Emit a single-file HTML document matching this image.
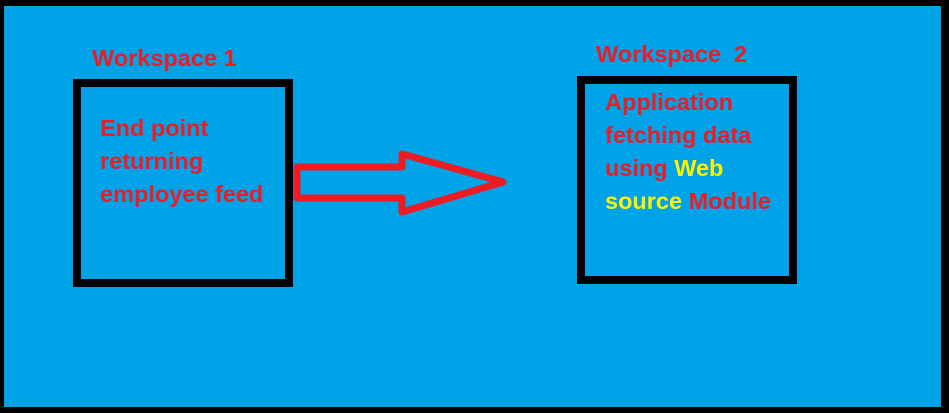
<!DOCTYPE html>
<html><head><style>
html,body{margin:0;padding:0}
body{width:949px;height:413px;background:#000;position:relative;overflow:hidden;font-family:"Liberation Sans",sans-serif;font-weight:bold}
.bg{position:absolute;left:4px;top:6px;width:937px;height:401px;background:#00A2E8}
.box{position:absolute;border:8px solid #000;box-sizing:border-box}
.t{position:absolute;color:#ED1C24;font-size:23.5px;line-height:33px;white-space:nowrap}
.y{color:#FFF200}
</style></head><body>
<div class="bg"></div>
<div class="t" style="left:92px;top:42px">Workspace 1</div>
<div class="box" style="left:73px;top:79px;width:220px;height:208px"></div>
<div class="t" style="left:100px;top:112px">End point<br>returning<br>employee feed</div>
<div class="t" style="left:596px;top:38px">Workspace&nbsp; 2</div>
<div class="box" style="left:577px;top:76px;width:220px;height:208px"></div>
<div class="t" style="left:605px;top:86px">Application<br>fetching data<br>using <span class="y">Web</span><br><span class="y">source</span> Module</div>
<svg style="position:absolute;left:0;top:0" width="949" height="413">
<polygon points="297,167 402,167 402,154 503,182 402,212 402,198 297,198" fill="none" stroke="#ED1C24" stroke-width="7" stroke-linejoin="round"/>
</svg>
</body></html>
